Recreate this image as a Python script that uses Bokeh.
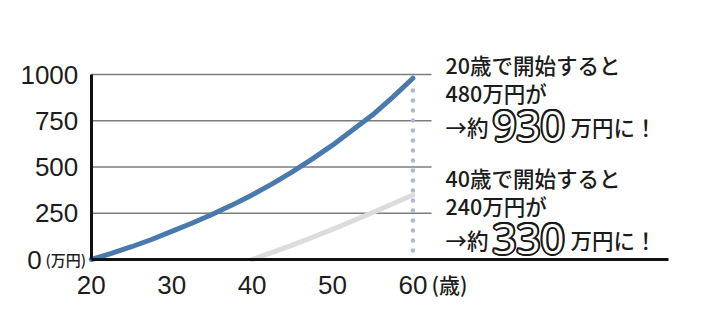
import math
from bokeh.plotting import figure
from bokeh.models import Range1d, FixedTicker, Label
from bokeh.embed import file_html
from bokeh.resources import INLINE

# ---- data ----
ages_from20 = [20, 22.5, 25, 27.5, 30, 32.5, 35, 37.5, 40, 42.5, 45, 47.5, 50, 52.5, 55, 57.5, 60]
value_from20 = [0, 33, 69, 108, 152, 196, 243, 294, 349, 409, 474, 544, 618, 700, 782, 878, 980]
ages_from40 = [40, 42.5, 45, 47.5, 50, 52.5, 55, 57.5, 60]
value_from40 = [0, 38, 78, 120, 163, 208, 254, 301, 349]
x_ticks = [20, 30, 40, 50, 60]
y_ticks = [0, 250, 500, 750, 1000]
end_age = 60
x_unit = "(歳)"
y_unit = "(万円)"
note_20 = ["20歳で開始すると", "480万円が", "→約", "930", "万円に！"]
note_40 = ["40歳で開始すると", "240万円が", "→約", "330", "万円に！"]

W, H = 720, 326
X0_PX, PX_PER_YEAR = 90.8, 8.04
Y0_PX, PX_PER_UNIT = 259.0, 0.185

def dx(px):
    return 20 + (px - X0_PX) / PX_PER_YEAR

def dy(py):
    return (Y0_PX - py) / PX_PER_UNIT

p = figure(width=W, height=H,
           x_range=Range1d(dx(0), dx(W)), y_range=Range1d(dy(H), dy(0)),
           output_backend="svg", toolbar_location=None, min_border=0,
           outline_line_color=None, background_fill_color="white",
           border_fill_color="white")
p.grid.visible = False

NUM_FONT = "Liberation Sans Narrow, Liberation Sans"
JP_FONT = "Noto Sans CJK JP Medium, Noto Sans CJK JP"
BIG_FONT = "Open Sans"
INK = "#1c1c1c"

# grid lines
p.segment(x0=[x_ticks[0]] * (len(y_ticks) - 1), y0=y_ticks[1:],
          x1=[dx(431)] * (len(y_ticks) - 1), y1=y_ticks[1:],
          line_color="#7c7c7c", line_width=1.5)

# dotted guide at end age
p.line(x=[end_age, end_age], y=[dy(250), dy(86)], line_color="#adb9cf",
       line_width=4.5, line_dash="0 10", line_cap="round")

# curves
p.line(ages_from40, value_from40, line_color="#dcdcdc", line_width=5, line_cap="round")
p.line(ages_from20, value_from20, line_color="#4a7aad", line_width=5, line_cap="round")

# axes
xa = p.xaxis[0]
xa.fixed_location = 0
xa.bounds = (x_ticks[0], dx(668))
xa.ticker = FixedTicker(ticks=x_ticks)
xa.axis_line_width = 3
xa.axis_line_color = "#111111"
xa.major_tick_line_color = None
xa.minor_tick_line_color = None
xa.major_label_text_font = NUM_FONT
xa.major_label_text_font_size = "26px"
xa.major_label_text_color = INK
xa.major_label_standoff = 10

ya = p.yaxis[0]
ya.fixed_location = x_ticks[0]
ya.bounds = (y_ticks[0], y_ticks[-1])
ya.ticker = FixedTicker(ticks=y_ticks)
ya.axis_line_width = 3
ya.axis_line_color = "#111111"
ya.major_tick_line_color = None
ya.minor_tick_line_color = None
ya.major_label_text_font = NUM_FONT
ya.major_label_text_font_size = "26px"
ya.major_label_text_color = INK
ya.major_label_standoff = 7
ya.major_label_overrides = {0: ""}

def lab(x, y, text, size, font=JP_FONT, align="left", color=INK, xo=0, yo=0, style="normal"):
    p.add_layout(Label(x=x, y=y, text=text, text_font=font, text_font_size=size,
                       text_align=align, text_baseline="middle", text_color=color,
                       x_offset=xo, y_offset=yo, text_font_style=style))

# zero label and units
lab(dx(34), 0, "0", "26px", font=NUM_FONT, align="center")
lab(dx(45), 0, y_unit, "15px")
lab(dx(431), dy(283), x_unit, "21px")

def outlined(x, y, text, size):
    r = 2.0
    for k in range(16):
        a = 2 * math.pi * k / 16
        lab(x, y, text, size, font=BIG_FONT, color="#1a1a1a",
            xo=r * math.cos(a), yo=r * math.sin(a))
    lab(x, y, text, size, font=BIG_FONT, color="white")

def note(lines, top_py):
    tx = dx(445)
    lab(tx, dy(top_py), lines[0], "21.5px")
    lab(tx, dy(top_py + 28), lines[1], "21.5px")
    lab(tx, dy(top_py + 62), lines[2], "21.5px")
    outlined(dx(492), dy(top_py + 61), lines[3], "42px")
    lab(dx(570), dy(top_py + 62), lines[4], "21.5px")

note(note_20, 64)
note(note_40, 177)

open("out.html", "w").write(file_html(p, INLINE))
